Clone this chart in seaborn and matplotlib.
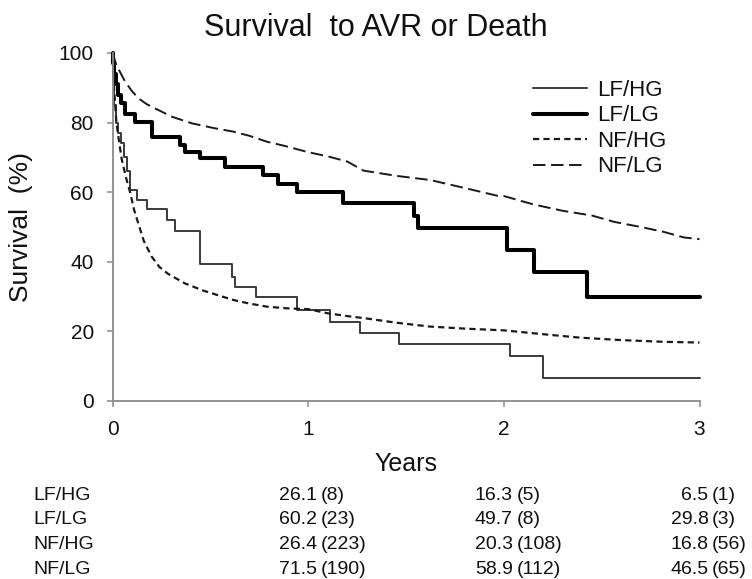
import numpy as np
import pandas as pd
import seaborn as sns
import matplotlib
matplotlib.use("Agg")
import matplotlib.pyplot as plt
from matplotlib import transforms

# ---------------- data ----------------
groups = ["LF/HG", "LF/LG", "NF/HG", "NF/LG"]

lfhg_t = [0, 0.004, 0.01, 0.02, 0.03, 0.045, 0.06, 0.075, 0.089, 0.124, 0.175, 0.277, 0.32,
          0.448, 0.613, 0.627, 0.734, 0.945, 1.11, 1.266, 1.462, 2.033, 2.198, 3.0]
lfhg_s = [100, 92, 85, 80, 77, 74, 70, 66, 60.6, 57.8, 55.2, 52.0, 48.9,
          39.3, 35.7, 32.8, 29.8, 26.1, 22.8, 19.5, 16.3, 13.0, 6.5, 6.5]

lflg_t = [0, 0.005, 0.01, 0.02, 0.03, 0.045, 0.065, 0.115, 0.2, 0.345, 0.37, 0.448, 0.575,
          0.77, 0.848, 0.942, 1.18, 1.539, 1.559, 2.016, 2.156, 2.425, 3.0]
lflg_s = [100, 97, 94, 91, 88, 85.5, 82.5, 80.3, 76.0, 73.6, 71.6, 69.7, 67.3,
          64.9, 62.5, 60.2, 56.8, 53.2, 49.7, 43.4, 37.2, 29.8, 29.8]

nfhg_t = [0, 0.008, 0.02, 0.035, 0.047, 0.07, 0.09, 0.11, 0.132, 0.16, 0.2, 0.24, 0.285, 0.37,
          0.46, 0.55, 0.62, 0.7, 0.79, 0.9, 1.0, 1.1, 1.2, 1.3, 1.45, 1.62, 1.8, 2.0, 2.2,
          2.39, 2.6, 2.82, 3.0]
nfhg_s = [100, 90, 80, 74, 69.5, 64, 60, 55, 51, 46, 41.5, 38.5, 36.5, 33.8,
          31.8, 30.2, 29.0, 28.0, 27.1, 26.6, 26.4, 25.2, 24.4, 23.7, 22.5, 21.4, 20.8, 20.3, 19.2,
          18.2, 17.5, 17.0, 16.8]

nflg_t = [0, 0.004, 0.02, 0.038, 0.064, 0.1, 0.132, 0.175, 0.217, 0.303, 0.405, 0.52, 0.618,
          0.7, 0.79, 0.88, 0.96, 1.0, 1.1, 1.2, 1.283, 1.45, 1.624, 1.8, 1.965, 2.0, 2.15,
          2.306, 2.45, 2.562, 2.7, 2.817, 2.92, 3.0]
nflg_s = [100, 99.4, 96.5, 94.6, 91.8, 89, 87, 85.3, 84.1, 81.7, 79.8, 78.4, 77.4,
          76.2, 74.5, 73.3, 72.1, 71.5, 70.3, 68.8, 66.2, 64.7, 63.5, 61.2, 59.0, 58.9, 56.5,
          54.6, 53.3, 51.5, 50.0, 48.6, 47.0, 46.5]

table_cols = [1, 2, 3]
table_pct = [[26.1, 16.3, 6.5],
             [60.2, 49.7, 29.8],
             [26.4, 20.3, 16.8],
             [71.5, 58.9, 46.5]]
table_n = [[8, 5, 1],
           [23, 8, 3],
           [223, 108, 56],
           [190, 112, 65]]

x_ticks = [0, 1, 2, 3]
y_ticks = [0, 20, 40, 60, 80, 100]

series = {"LF/HG": (lfhg_t, lfhg_s), "LF/LG": (lflg_t, lflg_s),
          "NF/HG": (nfhg_t, nfhg_s), "NF/LG": (nflg_t, nflg_s)}
df = pd.concat([pd.DataFrame({"Years": t, "Survival": s, "Group": g})
                for g, (t, s) in series.items()], ignore_index=True)

# ---------------- style ----------------
sns.set_theme(style="white")
plt.rcParams["font.family"] = ["Liberation Sans", "DejaVu Sans"]
plt.rcParams["lines.scale_dashes"] = False

styles = {
    "LF/HG": dict(color="#3a3a3a", lw=1.4, ls="-", drawstyle="steps-post"),
    "LF/LG": dict(color="#000000", lw=2.9, ls="-", drawstyle="steps-post"),
    "NF/HG": dict(color="#1a1a1a", lw=1.6, ls=(0, (4.5, 3.0)), drawstyle="default"),
    "NF/LG": dict(color="#1a1a1a", lw=1.4, ls=(0, (9.0, 4.0)), drawstyle="default"),
}

W, H = 752, 579
fig = plt.figure(figsize=(W / 100, H / 100), dpi=100)
ax = fig.add_axes([112.5 / W, 1 - 401 / H, 587 / W, 348 / H])

for g in groups:
    st = styles[g]
    sns.lineplot(data=df[df["Group"] == g], x="Years", y="Survival", ax=ax,
                 estimator=None, sort=True, label=g, color=st["color"], linewidth=st["lw"],
                 linestyle=st["ls"], drawstyle=st["drawstyle"], clip_on=False)

ax.set_xlim(0, 3)
ax.set_ylim(0, 100)
ax.set_xticks(x_ticks)
ax.set_yticks(y_ticks)
ax.set_xticklabels([str(v) for v in x_ticks])
ax.set_yticklabels([str(v) for v in y_ticks])
sns.despine(ax=ax)
for sp in ("left", "bottom"):
    ax.spines[sp].set_color("#8a8a8a")
    ax.spines[sp].set_linewidth(1.3)
ax.tick_params(axis="both", direction="out", length=4.5, width=1.1, color="#8a8a8a",
               labelsize=15, pad=9, labelcolor="#111111")
ax.tick_params(axis="both", which="both", bottom=True, left=True)

ax.set_xlabel("Years", fontsize=18, color="#111111")
ax.set_ylabel("Survival  (%)", fontsize=19, color="#111111")
ax.xaxis.set_label_coords(0.5, (401 - 452) / 348)
ax.yaxis.set_label_coords((33 - 112.5) / 587, 0.5)

fig.text(0.5, 1 - 36 / H, "Survival  to AVR or Death", ha="center", va="baseline",
         fontsize=22, color="#111111")

leg = ax.legend(loc="upper left", bbox_to_anchor=(533 / W, 1 - 80 / H),
                bbox_transform=fig.transFigure, frameon=False, fontsize=16,
                handlelength=2.45, handletextpad=0.45, labelspacing=0.2,
                borderpad=0, borderaxespad=0)
for t in leg.get_texts():
    t.set_color("#111111")

# ---------------- table ----------------
row_base = [499.8, 524.2, 549.2, 573.5]
blend = transforms.blended_transform_factory(ax.transData, fig.transFigure)
tr_num = transforms.offset_copy(blend, fig=fig, x=6.5, units="points")
tr_par = transforms.offset_copy(blend, fig=fig, x=9.0, units="points")
for i, g in enumerate(groups):
    yb = 1 - row_base[i] / H
    fig.text(33.5 / W, yb, g, ha="left", va="baseline", fontsize=14, color="#111111")
    for j, c in enumerate(table_cols):
        fig.text(c, yb, f"{table_pct[i][j]:.1f}", transform=tr_num, ha="right",
                 va="baseline", fontsize=14, color="#111111")
        fig.text(c, yb, f"({table_n[i][j]})", transform=tr_par, ha="left",
                 va="baseline", fontsize=14, color="#111111")

fig.savefig("out.png", dpi=100)
